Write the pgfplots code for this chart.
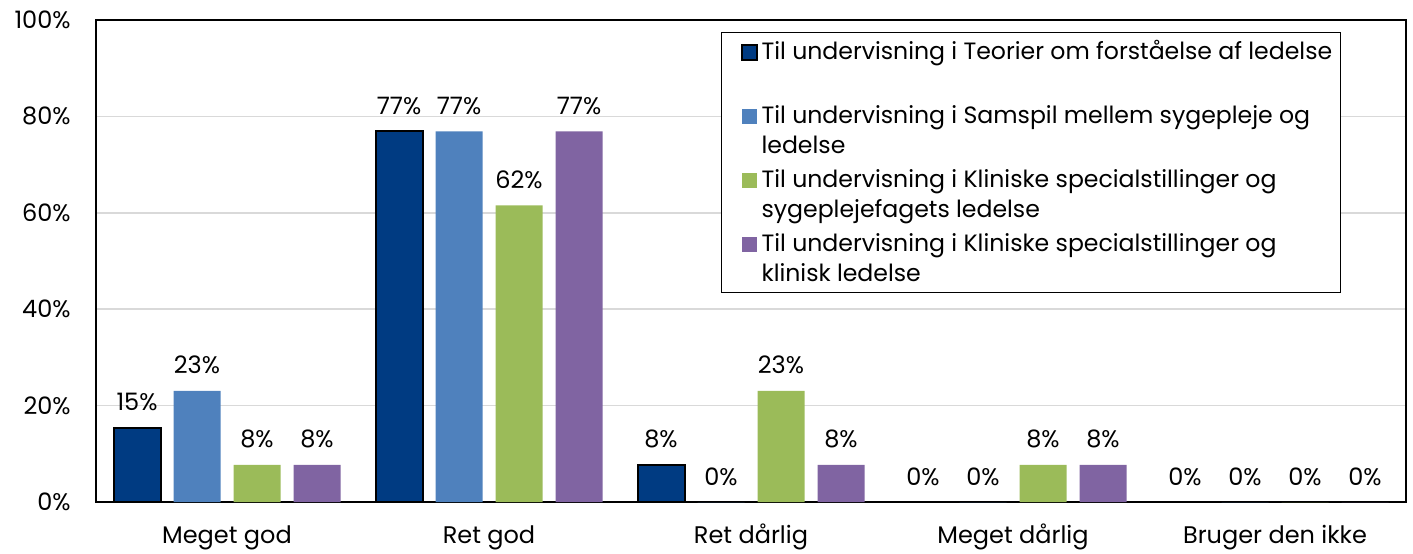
\documentclass[border=0pt]{standalone}
\usepackage{fontspec}
\setmainfont{Poppins}
\usepackage{pgfplots}
\usepackage{pgfplotstable}
\pgfplotsset{compat=1.18}
\definecolor{cA}{HTML}{003B82}
\definecolor{cB}{HTML}{4F81BD}
\definecolor{cC}{HTML}{9BBB59}
\definecolor{cD}{HTML}{8064A2}
\newcommand{\lfirst}[1]{\makebox[285pt][l]{\rule[-4.5pt]{0pt}{17pt}#1}}
\newcommand{\lnext}[1]{\makebox[285pt][l]{\rule[-4.5pt]{0pt}{15pt}#1}}
\pgfplotstableread{
x y
0 15.38
1 76.92
2 7.69
3 0
4 0
}\dataA
\pgfplotstableread{
x y
0 23.08
1 76.92
2 0
3 0
4 0
}\dataB
\pgfplotstableread{
x y
0 7.69
1 61.54
2 23.08
3 7.69
4 0
}\dataC
\pgfplotstableread{
x y
0 7.69
1 76.92
2 7.69
3 7.69
4 0
}\dataD
\begin{document}
\begin{tikzpicture}
\begin{axis}[
 scale only axis, width=655pt, height=241pt,
 ybar, bar width=23.5pt,
 xmin=-0.5, xmax=4.5, ymin=0, ymax=100,
 xtick={0,...,4}, xticklabels={Meget god,Ret god,Ret dårlig,Meget dårlig,Bruger den ikke},
 ytick={0,20,...,100}, yticklabels={0\%,20\%,40\%,60\%,80\%,100\%},
 major tick length=0pt,
 ymajorgrids, grid style={color=black!15, line width=0.75pt},
 axis line style={line width=1.2pt, black},
 ticklabel style={font=\fontsize{12}{14.5}\selectfont},
 xticklabel style={anchor=base, yshift=-20.5pt, inner sep=0pt},
 yticklabel style={anchor=east, inner sep=0pt, xshift=-12.5pt},
 nodes near coords={\pgfmathprintnumber[fixed,precision=0]{\pgfplotspointmeta}\%},
 nodes near coords style={font=\fontsize{12}{14.5}\selectfont, anchor=base, inner sep=0pt, yshift=8.5pt, text=black},
 /pgf/number format/assume math mode=true,
 legend style={at={(rel axis cs:0.4771,0.9751)}, anchor=north west, draw=black, line width=0.6pt, inner xsep=4.5pt, inner ysep=1pt, row sep=0pt, column sep=2pt, nodes={inner sep=0pt, text depth=4.5pt, font=\fontsize{11.8}{14}\selectfont}, cells={anchor=base west}},
 legend image code/.code={\path (0pt,0pt); \path[#1] (5pt,0pt) rectangle (12.5pt,7.5pt);},
]
\addplot[fill=cA, draw=black, line width=1pt, bar shift=-45pt] table[x=x,y=y] {\dataA};
\addlegendentry{\lfirst{Til undervisning i Teorier om forståelse af ledelse}}
\addlegendimage{empty legend}
\addlegendentry{\lnext{}}
\addplot[fill=cB, draw=none, bar shift=-15pt] table[x=x,y=y] {\dataB};
\addlegendentry{\lfirst{Til undervisning i Samspil mellem sygepleje og}}
\addlegendimage{empty legend}
\addlegendentry{\lnext{ledelse}}
\addplot[fill=cC, draw=none, bar shift=15pt] table[x=x,y=y] {\dataC};
\addlegendentry{\lfirst{Til undervisning i Kliniske specialstillinger og}}
\addlegendimage{empty legend}
\addlegendentry{\lnext{sygeplejefagets ledelse}}
\addplot[fill=cD, draw=none, bar shift=45pt] table[x=x,y=y] {\dataD};
\addlegendentry{\lfirst{Til undervisning i Kliniske specialstillinger og}}
\addlegendimage{empty legend}
\addlegendentry{\lnext{klinisk ledelse}}
\end{axis}
\pgfresetboundingbox
\path (-48pt,-25.5pt) rectangle (658.5pt,251pt);
\end{tikzpicture}
\end{document}
